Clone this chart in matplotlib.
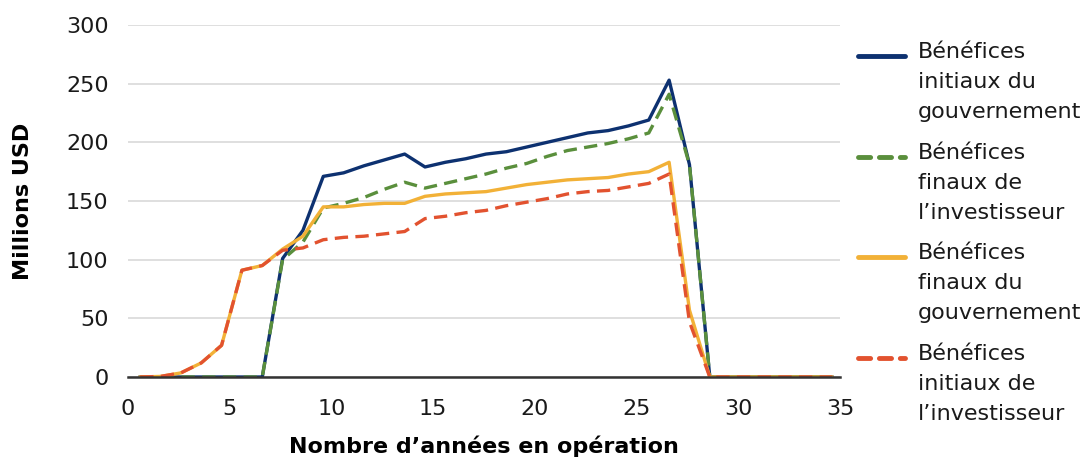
import numpy as np
import matplotlib
matplotlib.use("Agg")
import matplotlib.pyplot as plt
from matplotlib.lines import Line2D

plt.rcParams['font.family'] = ['DejaVu Sans']

# years of operation (points sit slightly after each whole year)
years = np.arange(35) + 0.6

gouv_initial = [0, 0, 0, 0, 0, 0, 0,
                101, 125, 171, 174, 180, 185, 190,
                179, 183, 186, 190, 192, 196, 200,
                204, 208, 210, 214, 219, 253, 181,
                0, 0, 0, 0, 0, 0, 0]
invest_final = [0, 0, 0, 0, 0, 0, 0,
                100, 115, 144, 148, 153, 160, 166,
                161, 165, 169, 173, 178, 182, 188,
                193, 196, 199, 203, 208, 241, 181,
                0, 0, 0, 0, 0, 0, 0]
gouv_final = [0, 0.5, 3.5, 12, 27, 91, 95,
              109, 120, 145, 145, 147, 148, 148,
              154, 156, 157, 158, 161, 164, 166,
              168, 169, 170, 173, 175, 183, 57,
              0, 0, 0, 0, 0, 0, 0]
invest_initial = [0, 0.5, 3.5, 12, 27, 91, 95,
                  108, 110, 117, 119, 120, 122, 124,
                  135, 137, 140, 142, 146, 149, 152,
                  156, 158, 159, 162, 165, 173, 47,
                  0, 0, 0, 0, 0, 0, 0]

labels = ["Bénéfices\ninitiaux du\ngouvernement",
          "Bénéfices\nfinaux de\nl’investisseur",
          "Bénéfices\nfinaux du\ngouvernement",
          "Bénéfices\ninitiaux de\nl’investisseur"]
colors = ["#0d3170", "#5a8f3c", "#f2b137", "#e2522f"]
styles = ["-", "--", "-", "--"]
series = [gouv_initial, invest_final, gouv_final, invest_initial]

W, H = 1087, 465
fig = plt.figure(figsize=(W / 100, H / 100), dpi=100)
ax = fig.add_axes([128 / W, (H - 377) / H, 712 / W, 352 / H])

for vals, c, ls in zip(series, colors, styles):
    ax.plot(years, vals, color=c, linestyle=ls, linewidth=2.4,
            dashes=(4, 2.2) if ls == "--" else (None, None), zorder=3)

ax.set_xlim(0, 35)
ax.set_ylim(0, 300)
ax.set_xticks(range(0, 36, 5))
ax.set_yticks(range(0, 301, 50))
ax.grid(axis='y', color='#d9d9d9', linewidth=1.2)
ax.set_axisbelow(True)
for s in ['top', 'right', 'left']:
    ax.spines[s].set_visible(False)
ax.spines['bottom'].set_color('#333333')
ax.spines['bottom'].set_linewidth(1.8)
ax.spines['bottom'].set_zorder(4)
ax.tick_params(length=0, labelsize=16, colors='#1a1a1a', pad=14)
ax.tick_params(axis='x', pad=16)
ax.set_xlabel("Nombre d’années en opération", fontsize=16, fontweight='bold',
              labelpad=12)
ax.set_ylabel("Millions USD", fontsize=16, fontweight='bold', labelpad=24)

# legend drawn by hand so the key sits next to the first line of text
for i, (lab, c, ls) in enumerate(zip(labels, colors, styles)):
    ykey = H - 56 - i * 100.7
    ln = Line2D([858 / W, 905 / W], [ykey / H, ykey / H], transform=fig.transFigure,
                color=c, linewidth=3.5, linestyle=ls, solid_capstyle='round',
                dash_capstyle='round', dashes=(2.5, 1.8) if ls == "--" else (None, None))
    fig.add_artist(ln)
    fig.text(918 / W, (ykey + 14) / H, lab, fontsize=16, va='top', ha='left',
             color='#1a1a1a', linespacing=1.62)

fig.savefig("out.png", dpi=100)
